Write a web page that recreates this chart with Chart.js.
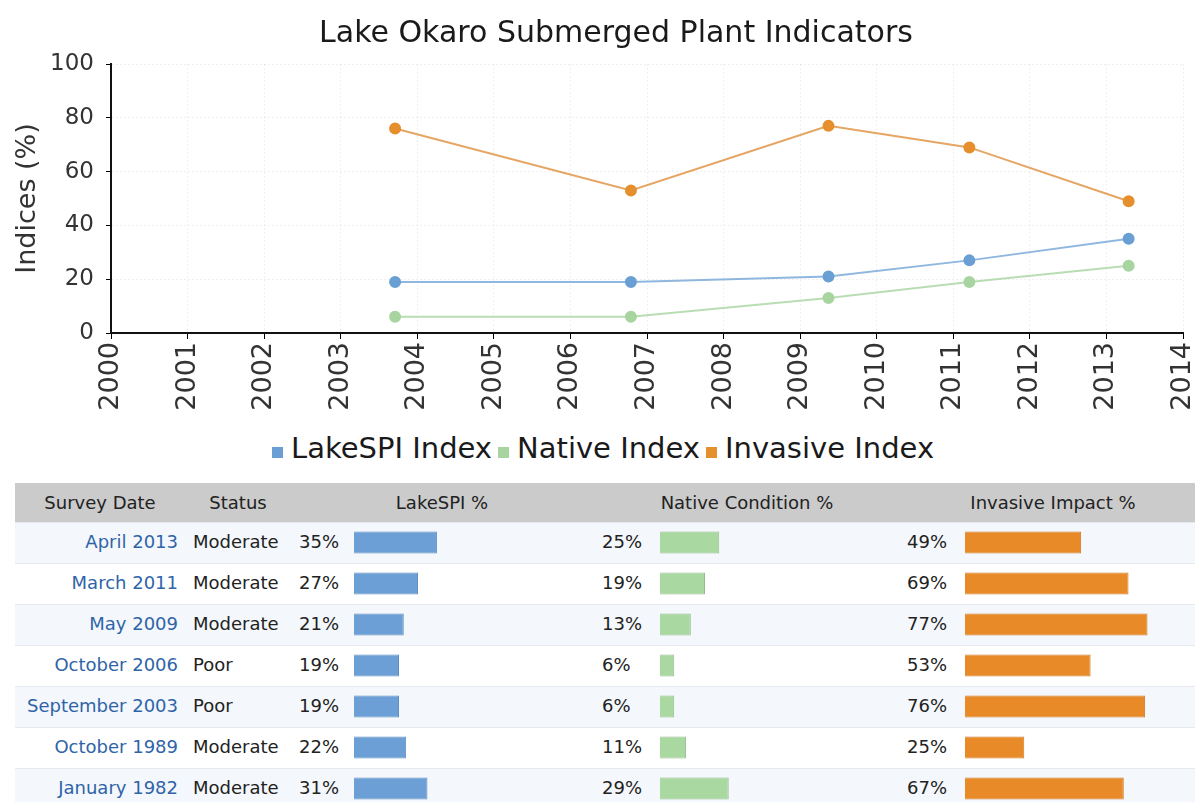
<!DOCTYPE html>
<html>
<head>
<meta charset="utf-8">
<title>Lake Okaro Submerged Plant Indicators</title>
<script src="https://cdn.jsdelivr.net/npm/chart.js@4.4.0/dist/chart.umd.min.js"></script>
<style>
  body { margin: 0; background: #fff; }
  #page { position: relative; width: 1195px; height: 802px; overflow: hidden; font-family: "DejaVu Sans", sans-serif; color: #222; }
  #chartTitle { position: absolute; left: 0; top: 14px; width: 1232px; text-align: center; font-size: 30px; line-height: 36px; color: #1a1a1a; }
  #lineBox { position: absolute; left: 0; top: 0; width: 1195px; height: 420px; }
  #legend { position: absolute; left: 272px; top: 431px; height: 34px; display: flex; align-items: baseline; font-size: 29px; line-height: 34px; color: #1a1a1a; white-space: nowrap; }
  #legend .item { display: flex; align-items: baseline; margin-right: 6px; }
  #legend .box { display: inline-block; width: 11px; height: 11px; margin-right: 8px; }
  #table { position: absolute; left: 0; top: 0; width: 1195px; height: 802px; font-size: 18px; }
  .hdr { position: absolute; left: 15px; top: 483px; width: 1180px; height: 39px; background: #cbcbcb; }
  .row { position: absolute; left: 15px; width: 1180px; height: 41px; border-top: 1px solid #e6eaef; box-sizing: border-box; }
  .cell { position: absolute; line-height: 39px; white-space: nowrap; }
  .barBox { position: absolute; top: 522px; width: 237px; height: 287px; }
</style>
</head>
<body>
<div id="page">
  <div id="table"></div>
  <div id="lineBox"><canvas id="lineChart"></canvas></div>
  <div id="chartTitle">Lake Okaro Submerged Plant Indicators</div>
  <div id="legend"></div>
  <div class="barBox" style="left:354px"><canvas id="spiBars" width="237" height="287"></canvas></div>
  <div class="barBox" style="left:660px"><canvas id="nativeBars" width="237" height="287"></canvas></div>
  <div class="barBox" style="left:965px"><canvas id="invBars" width="237" height="287"></canvas></div>
</div>
<script>
// survey table (newest first)
const surveyDates = ['April 2013', 'March 2011', 'May 2009', 'October 2006', 'September 2003', 'October 1989', 'January 1982'];
const surveyStatus = ['Moderate', 'Moderate', 'Moderate', 'Poor', 'Poor', 'Moderate', 'Moderate'];
const lakeSpi = [35, 27, 21, 19, 19, 22, 31];
const nativeCond = [25, 19, 13, 6, 6, 11, 29];
const invasiveImpact = [49, 69, 77, 53, 76, 25, 67];

// line chart: surveys since 2000, as decimal years (oldest first)
const plotYears = [2003.71, 2006.79, 2009.37, 2011.21, 2013.29];
const plotSpi = [19, 19, 21, 27, 35];
const plotNative = [6, 6, 13, 19, 25];
const plotInvasive = [76, 53, 77, 69, 49];

const headers = ['Survey Date', 'Status', 'LakeSPI %', 'Native Condition %', 'Invasive Impact %'];

const blue = '#6a9fd4', green = '#a8d4a0', orange = '#e58f2d';

function pts(vals) {
  return vals.map((v, i) => ({x: plotYears[i], y: v}));
}

const series = [
  {label: 'LakeSPI Index', data: pts(plotSpi), point: blue, line: 'rgba(106,159,212,0.75)'},
  {label: 'Native Index', data: pts(plotNative), point: green, line: 'rgba(168,212,160,0.8)'},
  {label: 'Invasive Index', data: pts(plotInvasive), point: orange, line: 'rgba(222,142,60,0.8)'}
];

// legend
const legend = document.getElementById('legend');
series.forEach(s => {
  const it = document.createElement('span');
  it.className = 'item';
  it.innerHTML = '<span class="box" style="background:' + s.point + '"></span>' + s.label;
  legend.appendChild(it);
});

// table text
const table = document.getElementById('table');
let html = '<div class="hdr"></div>';
const hdrCenters = [100, 238, 442, 747, 1053];
headers.forEach((h, i) => {
  html += '<div class="cell" style="top:483px;left:' + (hdrCenters[i] - 150) + 'px;width:300px;text-align:center">' + h + '</div>';
});
surveyDates.forEach((d, i) => {
  const top = 522 + i * 41;
  const bg = i % 2 === 0 ? '#f4f7fb' : '#ffffff';
  html += '<div class="row" style="top:' + top + 'px;background:' + bg + '"></div>';
  html += '<div class="cell" style="top:' + top + 'px;left:0;width:178px;text-align:right;color:#2f64a8">' + d + '</div>';
  html += '<div class="cell" style="top:' + top + 'px;left:193px">' + surveyStatus[i] + '</div>';
  html += '<div class="cell" style="top:' + top + 'px;left:239px;width:100px;text-align:right">' + lakeSpi[i] + '%</div>';
  html += '<div class="cell" style="top:' + top + 'px;left:602px">' + nativeCond[i] + '%</div>';
  html += '<div class="cell" style="top:' + top + 'px;left:907px">' + invasiveImpact[i] + '%</div>';
});
table.innerHTML = html;

// line chart
const lineCanvas = document.getElementById('lineChart');
lineCanvas.width = 1195;
lineCanvas.height = 420;

new Chart(lineCanvas, {
  type: 'line',
  data: {
    datasets: series.map(s => ({
      label: s.label,
      data: s.data,
      borderColor: s.line,
      backgroundColor: s.point,
      pointBackgroundColor: s.point,
      pointBorderColor: s.point,
      pointRadius: 5,
      borderWidth: 2,
      tension: 0
    }))
  },
  options: {
    responsive: false,
    animation: false,
    layout: { padding: { top: 64, right: 12, left: 0, bottom: 0 } },
    plugins: { legend: { display: false }, title: { display: false }, tooltip: { enabled: false } },
    scales: {
      x: {
        type: 'linear',
        min: 2000,
        max: 2014,
        afterFit(scale) { scale.height = 87; scale.paddingLeft = 0; scale.paddingRight = 0; },
        ticks: {
          stepSize: 1,
          minRotation: 90,
          maxRotation: 90,
          padding: 3,
          color: '#333',
          font: { family: 'DejaVu Sans', size: 27 },
          callback: v => String(v)
        },
        grid: { color: 'rgba(0,0,0,0.06)', tickColor: '#000', tickLength: 6 },
        border: { color: '#111', width: 2, dash: [2, 2] }
      },
      y: {
        min: 0,
        max: 100,
        afterFit(scale) { scale.width = 111; },
        ticks: {
          stepSize: 20,
          padding: 12,
          color: '#333',
          font: { family: 'DejaVu Sans', size: 23 }
        },
        grid: { color: 'rgba(0,0,0,0.06)', tickColor: '#000', tickLength: 5 },
        border: { color: '#111', width: 2, dash: [2, 2] },
        title: {
          display: true,
          text: 'Indices (%)',
          color: '#333',
          font: { family: 'DejaVu Sans', size: 27 },
          padding: { top: 12, bottom: 0 }
        }
      }
    }
  }
});

// table bars
function barChart(id, vals, fill, edge) {
  new Chart(document.getElementById(id), {
    type: 'bar',
    data: {
      labels: surveyDates,
      datasets: [{
        data: vals,
        backgroundColor: fill,
        borderColor: edge,
        borderWidth: 1,
        barPercentage: 1,
        categoryPercentage: 22 / 41
      }]
    },
    options: {
      indexAxis: 'y',
      responsive: false,
      animation: false,
      layout: { padding: 0 },
      plugins: { legend: { display: false }, tooltip: { enabled: false } },
      scales: {
        x: { display: false, min: 0, max: 100 },
        y: { display: false }
      }
    }
  });
}
barChart('spiBars', lakeSpi, '#6b9fd6', '#5f8fc2');
barChart('nativeBars', nativeCond, '#a9d8a1', '#93bf8c');
barChart('invBars', invasiveImpact, '#e88a28', '#d27b22');
</script>
</body>
</html>
